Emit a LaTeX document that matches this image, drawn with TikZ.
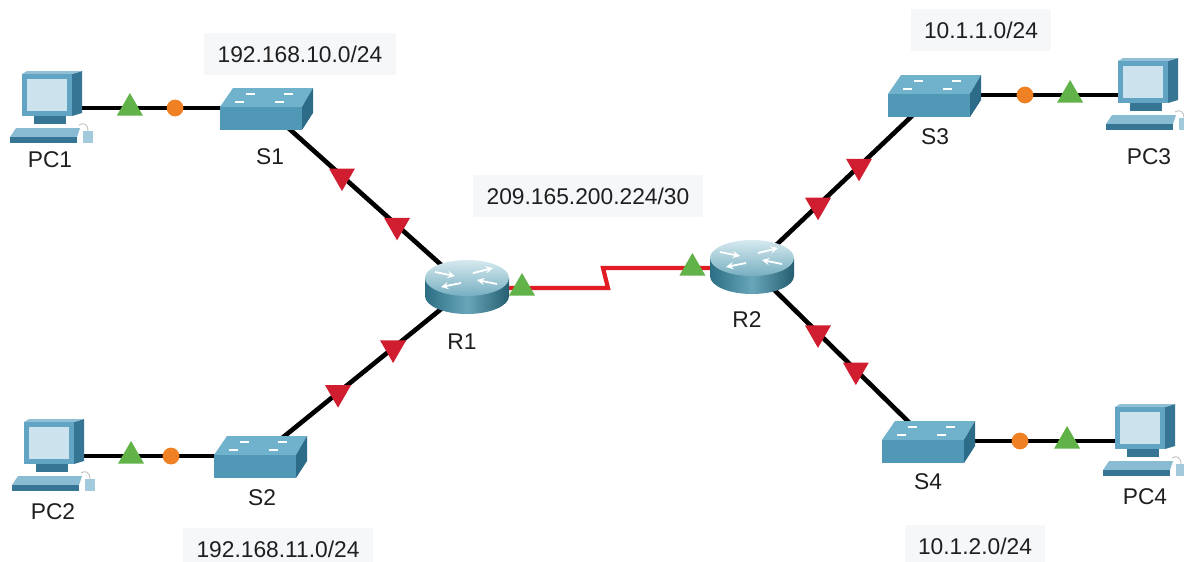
\documentclass[tikz,border=0pt]{standalone}
\usepackage{fontspec}
\setmainfont{Liberation Sans}
\usepackage{tikz}
\usetikzlibrary{shapes.geometric, arrows}

\definecolor{linkred}{RGB}{226,28,36}
\definecolor{tred}{RGB}{208,30,48}
\definecolor{tgreen}{RGB}{98,178,74}
\definecolor{dotorange}{RGB}{240,128,36}
\definecolor{netbg}{RGB}{246,247,249}
\definecolor{swtop}{RGB}{112,178,204}
\definecolor{swfront}{RGB}{80,152,182}
\definecolor{swside}{RGB}{44,108,136}
\definecolor{pcframe}{RGB}{98,164,196}
\definecolor{pcscreen}{RGB}{204,226,236}
\definecolor{pcside}{RGB}{54,118,148}
\definecolor{rtlight}{RGB}{186,218,228}
\definecolor{rtmid}{RGB}{104,166,186}
\definecolor{rtdark}{RGB}{44,110,132}

\tikzstyle{dev} = [coordinate]
\tikzstyle{lbl} = [font=\fontsize{16.2}{19}\selectfont, text=black!88, inner sep=0pt]
\tikzstyle{net} = [lbl, fill=netbg, inner xsep=0.33cm, minimum height=1.07cm]
\tikzstyle{eth} = [line width=3.3pt, black]
\tikzstyle{serial} = [line width=3pt, linkred]
\tikzstyle{gmark} = [regular polygon, regular polygon sides=3, minimum size=0.75cm, inner sep=0pt, fill=tgreen]
\tikzstyle{rmark} = [regular polygon, regular polygon sides=3, shape border rotate=180, minimum size=0.75cm, inner sep=0pt, fill=tred]
\tikzstyle{omark} = [circle, minimum size=0.42cm, inner sep=0pt, fill=dotorange]
\tikzstyle{rtarrow} = [->, >=stealth, white, line width=1.3pt]

\tikzset{
  pc/.pic={
    \fill[pcside] (20,-34) -- (30,-37) -- (30,5) -- (20,8) -- cycle;
    \fill[pcframe!70!white] (-30,-34) -- (-25,-37) -- (30,-37) -- (20,-34) -- cycle;
    \fill[pcframe] (-30,-34) rectangle (20,8);
    \fill[pcscreen] (-25,-29) rectangle (15,3);
    \fill[pcside] (-18,8) rectangle (14,16);
    \fill[pcframe!75!white] (-36,20) -- (28,20) -- (25,29) -- (-42,29) -- cycle;
    \fill[pcside] (-42,29) rectangle (25,35);
    \fill[pcscreen!60!pcframe] (31,23) rectangle (41,35);
    \draw[gray!50, line width=0.6pt] (36,23) .. controls (36,16) and (31,14) .. (27,17);
  },
  switch/.pic={
    \fill[swtop] (-33,-20) -- (47,-20) -- (36,-1) -- (-46,-1) -- cycle;
    \fill[swfront] (-46,-1) rectangle (36,22);
    \fill[swside] (36,-1) -- (47,-20) -- (47,5) -- (36,22) -- cycle;
    \draw[white, line width=0.9pt] (-20,-14) -- (-11,-14) (18,-14) -- (27,-14)
      (-31,-6) -- (-22,-6) (9,-6) -- (18,-6);
  },
  router/.pic={
    \shade[left color=rtdark, right color=rtdark!85!black, middle color=rtmid]
      (-42,-10) -- (-42,8) arc (180:0:42 and 18) -- (42,-10) -- cycle;
    \shade[top color=rtlight!60!white, bottom color=rtmid!90!white]
      (0,-10) ellipse [x radius=42, y radius=18];
    \draw[rtarrow] (-32,-16) -- (-12,-12);
    \draw[rtarrow] (30,-4) -- (10,-8);
    \draw[rtarrow] (-6,-5) -- (-26,-1);
    \draw[rtarrow] (6,-15) -- (26,-20);
  }
}

\begin{document}
\begin{tikzpicture}[x=0.025cm, y=-0.025cm]
\useasboundingbox[fill=white] (0,0) rectangle (1184,561);

\node (PC1) [dev] at (52,108) {};
\node (PC2) [dev] at (54,456) {};
\node (S1) [dev] at (266,108) {};
\node (S2) [dev] at (260,456) {};
\node (R1) [dev] at (467,288) {};
\node (R2) [dev] at (752,268) {};
\node (S3) [dev] at (934,95) {};
\node (S4) [dev] at (928,441) {};
\node (PC3) [dev] at (1148,95) {};
\node (PC4) [dev] at (1145,441) {};
\coordinate (zigA) at (608,288);
\coordinate (zigB) at (603,268);

% links
\draw [eth] (PC1) -- (S1) node [gmark, pos=0.364] {} node [omark, pos=0.575] {};
\draw [eth] (PC2) -- (S2) node [gmark, pos=0.374] {} node [omark, pos=0.568] {};
\draw [eth] (S1) -- (R1) node [rmark, pos=0.378] {} node [rmark, pos=0.652] {};
\draw [eth] (S2) -- (R1) node [rmark, pos=0.377] {} node [rmark, pos=0.643] {};
\draw [eth] (R2) -- (S3) node [rmark, pos=0.363] {} node [rmark, pos=0.588] {};
\draw [eth] (R2) -- (S4) node [rmark, pos=0.375] {} node [rmark, pos=0.59] {};
\draw [eth] (S3) -- (PC3) node [omark, pos=0.425] {} node [gmark, pos=0.636] {};
\draw [eth] (S4) -- (PC4) node [omark, pos=0.424] {} node [gmark, pos=0.641] {};
\draw [serial] (R1) -- (zigA) node [gmark, pos=0.39] {} -- (zigB) -- (R2) node [gmark, pos=0.6] {};

% devices
\pic at (PC1) {pc};
\pic at (PC2) {pc};
\pic at (PC3) {pc};
\pic at (PC4) {pc};
\pic at (S1) {switch};
\pic at (S2) {switch};
\pic at (S3) {switch};
\pic at (S4) {switch};
\pic at (R1) {router};
\pic at (R2) {router};

% names
\node (txtPC1) [lbl] at (50,160) {PC1};
\node (txtS1) [lbl] at (270,157) {S1};
\node (txtPC2) [lbl] at (53,512) {PC2};
\node (txtS2) [lbl] at (262,498) {S2};
\node (txtR1) [lbl] at (462,342) {R1};
\node (txtR2) [lbl] at (747,320) {R2};
\node (txtS3) [lbl] at (935,137) {S3};
\node (txtPC3) [lbl] at (1149,157) {PC3};
\node (txtS4) [lbl] at (928,482) {S4};
\node (txtPC4) [lbl] at (1145,497) {PC4};

% networks
\node (netS1) [net] at (300,54) {192.168.10.0/24};
\node (netS2) [net] at (278,549) {192.168.11.0/24};
\node (netWan) [net] at (588,196) {209.165.200.224/30};
\node (netS3) [net] at (981,30) {10.1.1.0/24};
\node (netS4) [net] at (975,546) {10.1.2.0/24};

\end{tikzpicture}
\end{document}
